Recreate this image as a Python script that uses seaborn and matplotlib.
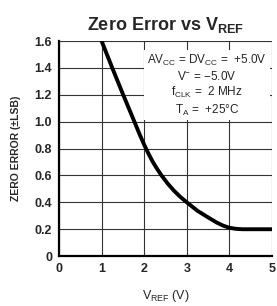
import numpy as np
import pandas as pd
import matplotlib
matplotlib.use('Agg')
import matplotlib.pyplot as plt
import seaborn as sns

sns.set_style('white')
plt.rcParams['font.family'] = ['Liberation Sans', 'DejaVu Sans']
plt.rcParams['mathtext.default'] = 'regular'

# curve
vref = [1.0, 1.25, 1.5, 1.75, 1.9, 2.0, 2.1, 2.2, 2.3, 2.4, 2.55, 2.7, 2.85, 3.0, 3.25,
        3.5, 3.7, 3.85, 4.0, 4.15, 4.3, 5.0]
zero_err = [1.6, 1.4, 1.205, 1.015, 0.9, 0.828, 0.762, 0.702, 0.65, 0.603, 0.54, 0.486, 0.44,
            0.4, 0.337, 0.288, 0.25, 0.227, 0.211, 0.203, 0.2, 0.2]
xticks = [0, 1, 2, 3, 4, 5]
yticks = [0, 0.2, 0.4, 0.6, 0.8, 1.0, 1.2, 1.4, 1.6]
ytick_labels = ['0', '0.2', '0.4', '0.6', '0.8', '1.0', '1.2', '1.4', '1.6']

df = pd.DataFrame({'vref': vref, 'err': zero_err})

fig = plt.figure(figsize=(2.77, 3.06), dpi=100)
ax = fig.add_axes([0.213, 0.163, 0.769, 0.703])

sns.lineplot(data=df, x='vref', y='err', color='black', linewidth=2.8, ax=ax, zorder=3)

ax.set_xlim(0, 5)
ax.set_ylim(0, 1.6)
ax.set_xticks(xticks)
ax.set_yticks(yticks)
ax.set_yticklabels(ytick_labels)
ax.grid(True, color='#333333', linewidth=0.8)
ax.tick_params(length=0, labelsize=9, pad=5)
for lab in ax.get_xticklabels() + ax.get_yticklabels():
    lab.set_fontweight('bold')
for s in ax.spines.values():
    s.set_linewidth(1.6)
    s.set_color('black')
ax.spines['top'].set_visible(False)
ax.spines['right'].set_visible(False)

ax.set_xlabel('V$_{REF}$ (V)', fontsize=9, labelpad=9)
ax.set_ylabel('ZERO ERROR (±LSB)', fontsize=7.5, fontweight='bold', labelpad=10)
ax.set_title('Zero Error vs V$_{REF}$', fontsize=13, fontweight='bold', pad=8)

ax.text(0.975, 0.945,
        'AV$_{CC}$ = DV$_{CC}$ =  +5.0V\nV$^{-}$ = −5.0V\nf$_{CLK}$ =  2 MHz\nT$_{A}$ =  +25°C',
        transform=ax.transAxes, ha='right', va='top', fontsize=8.5,
        multialignment='center', linespacing=1.2, zorder=4,
        bbox=dict(facecolor='white', edgecolor='none', pad=2))

fig.savefig('out.png', dpi=100)
